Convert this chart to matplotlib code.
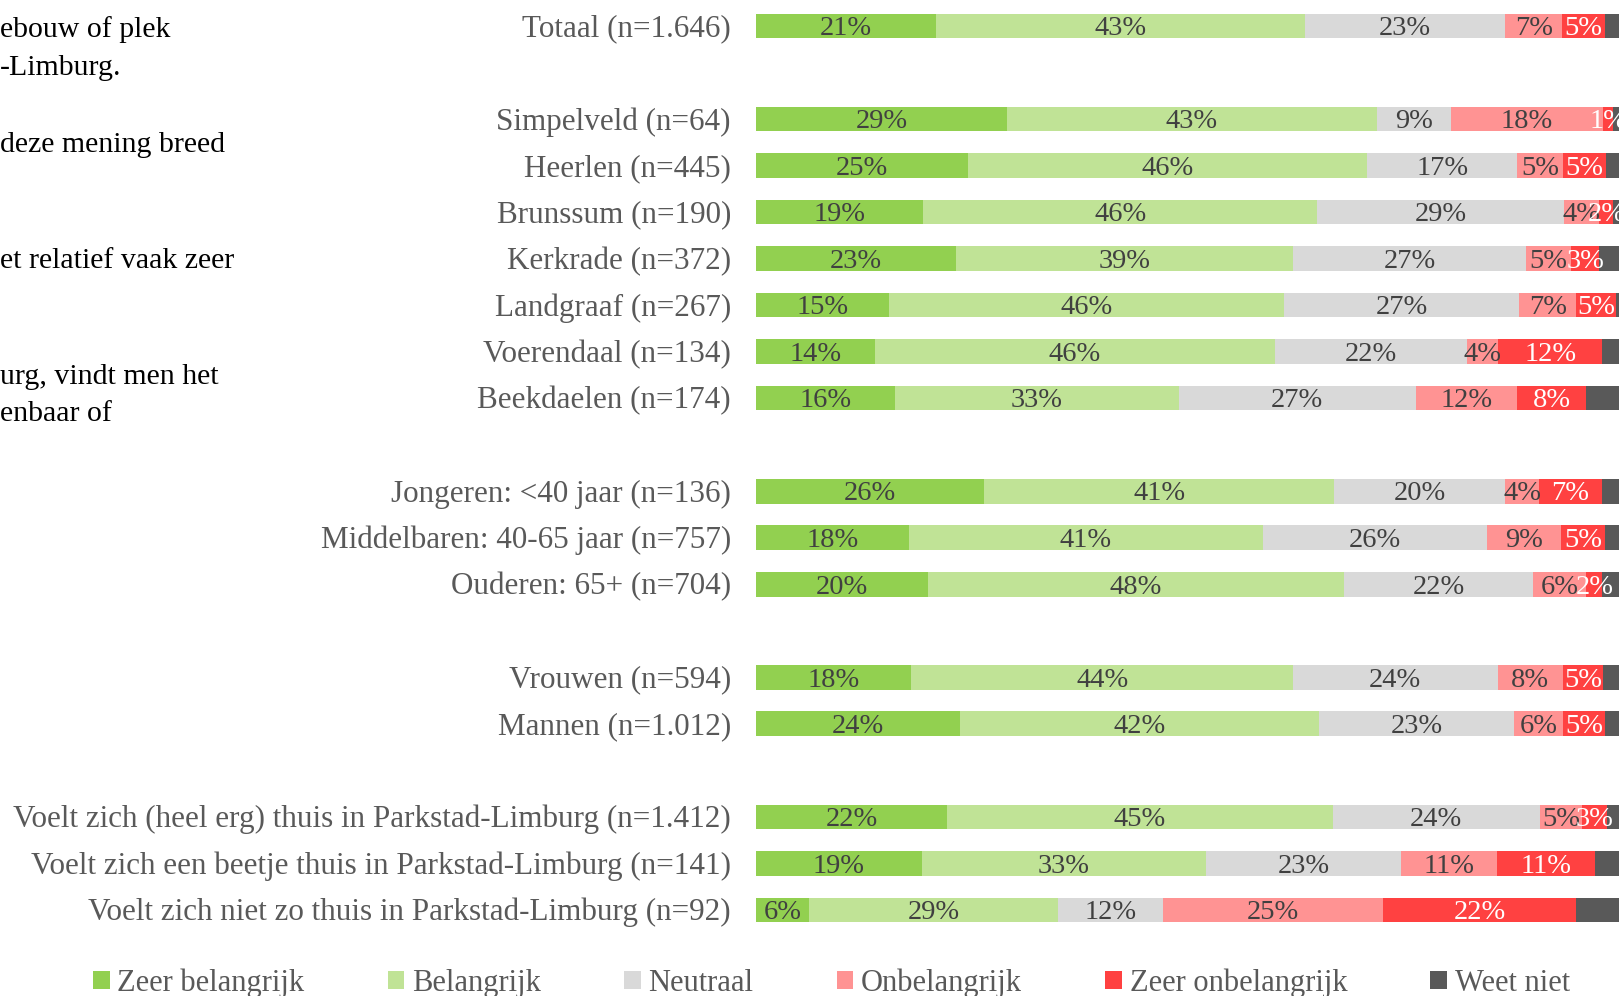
import matplotlib.pyplot as plt
import numpy as np

DPI = 100

categories = [
    "Totaal (n=1.646)",
    "Simpelveld (n=64)",
    "Heerlen (n=445)",
    "Brunssum (n=190)",
    "Kerkrade (n=372)",
    "Landgraaf (n=267)",
    "Voerendaal (n=134)",
    "Beekdaelen (n=174)",
    "Jongeren: <40 jaar (n=136)",
    "Middelbaren: 40-65 jaar (n=757)",
    "Ouderen: 65+ (n=704)",
    "Vrouwen (n=594)",
    "Mannen (n=1.012)",
    "Voelt zich (heel erg) thuis in Parkstad-Limburg (n=1.412)",
    "Voelt zich een beetje thuis in Parkstad-Limburg (n=141)",
    "Voelt zich niet zo thuis in Parkstad-Limburg (n=92)",
]
# row slot of each category (empty slots are the gaps between groups)
row_pos = [0, 2, 3, 4, 5, 6, 7, 8, 10, 11, 12, 14, 15, 17, 18, 19]

series = ["Zeer belangrijk", "Belangrijk", "Neutraal", "Onbelangrijk", "Zeer onbelangrijk", "Weet niet"]

zeer_belangrijk   = [20.9, 29.1, 24.6, 19.4, 23.2, 15.4, 13.8, 16.1, 26.4, 17.7, 19.9, 18.0, 23.6, 22.1, 19.2, 6.1]
belangrijk        = [42.7, 42.8, 46.2, 45.6, 39.0, 45.8, 46.3, 32.9, 40.6, 41.0, 48.2, 44.2, 41.6, 44.7, 32.9, 28.9]
neutraal          = [23.2, 8.6, 17.4, 28.6, 27.0, 27.2, 22.3, 27.4, 19.8, 26.0, 21.9, 23.7, 22.6, 24.0, 22.6, 12.2]
onbelangrijk      = [6.6, 17.6, 5.3, 4.1, 5.2, 6.6, 3.6, 11.8, 3.9, 8.6, 6.2, 7.6, 5.7, 4.9, 11.1, 25.4]
zeer_onbelangrijk = [4.9, 1.2, 5.0, 1.6, 3.3, 4.6, 12.0, 7.9, 7.3, 5.0, 1.8, 4.6, 4.8, 2.9, 11.4, 22.4]
weet_niet         = [1.7, 0.7, 1.5, 0.7, 2.3, 0.4, 2.0, 3.9, 2.0, 1.7, 2.0, 1.9, 1.7, 1.4, 2.8, 5.0]

colors = ['#92D050', '#C0E396', '#D9D9D9', '#FF9393', '#FF4141', '#595959']
label_colors = ['#404040', '#404040', '#404040', '#404040', 'white', None]

FONT = 'Liberation Serif'
plt.rcParams['font.family'] = [FONT, 'DejaVu Serif']

fig = plt.figure(figsize=(16.22, 9.96), dpi=DPI)
ax = fig.add_axes([756 / 1622, 0, 863.3 / 1622, 1])

data = np.array([zeer_belangrijk, belangrijk, neutraal, onbelangrijk, zeer_onbelangrijk, weet_niet])
y = np.array(row_pos)
left = np.zeros(len(categories))
handles = []
for i, name in enumerate(series):
    vals = data[i]
    h = ax.barh(y, vals, left=left, height=0.53, color=colors[i], edgecolor='none', label=name)
    handles.append(h)
    if label_colors[i] is not None:
        for yy, l, v in zip(y, left, vals):
            ax.text(l + v / 2, yy + 0.06, "{:.0f}%".format(v), ha='center', va='center',
                    fontsize=20.5, color=label_colors[i])
    left = left + vals

ax.set_xlim(0, 100)
ax.set_ylim(20.85, -0.557)
ax.axis('off')

for cat, yy in zip(categories, y):
    ax.text(-2.9, yy + 0.06, cat, ha='right', va='center', fontsize=22.4, color='#595959')

# text of the page that runs into the picture at the left
fragments = [("ebouw of plek", 30), ("-Limburg.", 68), ("deze mening breed", 145),
             ("et relatief vaak zeer", 261), ("urg, vindt men het", 377), ("enbaar of", 414)]
for txt, py in fragments:
    fig.text(0.0, 1 - py / 996, txt, ha='left', va='center', fontsize=21.5, color='black')

fig.legend(handles, series, loc='center left', bbox_to_anchor=(93 / 1622, 1 - 983 / 996),
           ncol=6, frameon=False, fontsize=22, handlelength=0.55, handleheight=0.55,
           handletextpad=0.25, columnspacing=2.72, borderpad=0, borderaxespad=0,
           labelcolor='#595959')

plt.savefig('out.png', dpi=DPI)
